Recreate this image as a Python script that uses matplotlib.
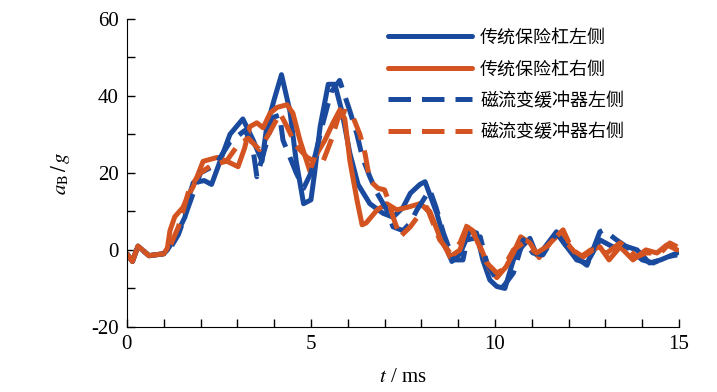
"""
Bumper acceleration comparison: conventional vs magnetorheological buffer
"""
import numpy as np
import matplotlib
matplotlib.use("Agg")
import matplotlib.pyplot as plt

plt.rcParams['font.family'] = ['Liberation Serif', 'DejaVu Serif']
plt.rcParams['mathtext.fontset'] = 'stix'
plt.rcParams['axes.unicode_minus'] = False

labels = ['传统保险杠左侧', '传统保险杠右侧', '磁流变缓冲器左侧', '磁流变缓冲器右侧']

# conventional bumper, left side
t_cl = [0, 0.15, 0.3, 0.6, 1.0, 1.1, 1.3, 1.58, 1.66, 1.8, 2.1, 2.3, 2.53, 2.8, 3.15,
        3.43, 3.67, 3.8, 4.0, 4.2, 4.43, 4.6, 4.8, 5.0, 5.1, 5.25, 5.47, 5.65, 5.84,
        6.06, 6.28, 6.6, 6.96, 7.23, 7.5, 7.7, 7.96, 8.1, 8.42, 8.7, 8.83, 9.05, 9.32,
        9.5, 9.67, 9.86, 10.05, 10.27, 10.5, 10.73, 10.95, 11.13, 11.3, 11.67, 11.95,
        12.22, 12.5, 12.85, 13.2, 13.6, 13.86, 14.2, 14.5, 14.95]
a_cl = [-1, -3, 1, -1.5, -1, 0, 3, 8.6, 13, 17.4, 18, 17, 23, 30, 34,
        28.5, 23, 32, 39, 45.5, 36, 23, 12, 13, 20, 32, 43, 43, 36,
        25, 17, 12, 9.5, 8.5, 11, 14.7, 17, 17.7, 9.5, 0, -3, -1, 5,
        4.4, -2.6, -7.8, -9.5, -10, -2.6, 0.8, 3, -1.3, 0, 4.7, 0.8,
        -2.6, -3.4, 2.6, 0.8, 0.8, 0, -3.4, -2.6, -0.8]

# conventional bumper, right side
t_cr = [0, 0.15, 0.3, 0.6, 1.0, 1.1, 1.17, 1.3, 1.52, 1.7, 1.8, 2.07, 2.45, 2.72, 3.02,
        3.2, 3.34, 3.53, 3.7, 3.89, 4.08, 4.35, 4.51, 4.7, 4.97, 5.1, 5.38, 5.6, 5.79,
        5.92, 6.06, 6.25, 6.39, 6.5, 6.8, 7.06, 7.33, 7.6, 7.96, 8.23, 8.5, 8.78, 9.05,
        9.24, 9.4, 9.6, 9.86, 10.05, 10.3, 10.5, 10.7, 10.95, 11.2, 11.5, 11.77, 12.04,
        12.3, 12.6, 12.85, 13.1, 13.4, 13.75, 14.1, 14.4, 14.67, 14.95]
a_cr = [-1, -3, 1, -1.5, -1, 0.5, 5, 8.6, 11, 14.8, 16.4, 23, 24, 23, 21.6,
        26.5, 32, 33, 31.7, 35.5, 37, 37.7, 35.5, 28.5, 20.5, 24, 28.5, 33, 36.4,
        34, 23, 13, 6.5, 7, 10.4, 12, 10.4, 11, 12, 10, 3.4, -1.8, 0,
        6, 5, 0.8, -5, -7.2, -4.4, -0.8, 3.4, 1.8, -2, 1.8, 4.4, 0.8,
        -2, 0, 0.8, -2.6, 0.8, -2.6, 0, -0.8, 1.3, 0]

# MR buffer, left side
t_ml = [0, 0.15, 0.3, 0.6, 1.0, 1.15, 1.4, 1.7, 2.0, 2.4, 2.8, 3.2, 3.4, 3.53, 3.8,
        4.0, 4.15, 4.24, 4.6, 4.8, 5.0, 5.3, 5.55, 5.78, 6.06, 6.25, 6.4, 6.6, 6.8,
        7.06, 7.23, 7.5, 7.7, 7.88, 8.23, 8.4, 8.6, 8.87, 9.13, 9.24, 9.6, 9.78, 10.05,
        10.22, 10.5, 10.77, 11.03, 11.3, 11.67, 11.95, 12.3, 12.5, 12.85, 12.95, 13.3,
        13.7, 14.0, 14.3, 14.67, 14.95]
a_ml = [-1, -3, 1, -1.5, -1, 0, 4, 12, 20, 22, 28, 31, 28, 19, 28,
        34.5, 35, 28.5, 20, 16, 20, 32, 41, 44, 36, 30, 24, 19, 14.7,
        10.4, 6, 5, 7, 10.4, 15.6, 11, 4.4, -2.6, -2.6, 2.6, 3.4, -3.4, -7.8,
        -9.6, -6, 2.6, -0.8, -1.3, 4.4, 0.8, -2.6, -4, 4.7, 5.2, 2.6,
        0, -2.6, -3.4, -1.8, -1.3]

# MR buffer, right side
t_mr = [0, 0.15, 0.3, 0.6, 1.0, 1.15, 1.4, 1.7, 2.0, 2.3, 2.7, 3.0, 3.3, 3.6, 3.85,
        4.16, 4.35, 4.6, 4.9, 5.1, 5.33, 5.57, 5.73, 5.92, 6.1, 6.33, 6.47, 6.6, 6.82,
        7.0, 7.1, 7.23, 7.42, 7.7, 7.9, 8.15, 8.5, 8.78, 9.05, 9.27, 9.5, 9.78, 10.05,
        10.2, 10.5, 10.77, 11.13, 11.4, 11.85, 12.1, 12.4, 12.67, 13.04, 13.4, 13.86,
        14.1, 14.5, 14.75, 14.95]
a_mr = [-1, -3, 1, -1.5, -1, 0.5, 6, 16, 20, 22, 23, 27, 29, 26, 30,
        35.5, 32, 27, 24, 23, 23, 29, 34, 36, 35.5, 30, 25, 18, 16,
        15.6, 13, 8.6, 3.4, 6, 8.6, 11, 2.6, -0.8, 1.8, 7, 2.6, -3.4, -6,
        -5.2, 0, 1.8, -0.8, 0.8, 5.2, 0, -1.8, 0, -0.8, 1.8, -1.8,
        -0.8, -0.8, 1.8, 0.8]

blue = '#1a4a9e'
orange = '#d35420'

fig = plt.figure(figsize=(7.17, 3.92), dpi=100)
ax = fig.add_axes([0.177, 0.166, 0.770, 0.786])

lw = 3.6
common = dict(lw=lw, solid_joinstyle='round', solid_capstyle='round',
              dash_joinstyle='round')
ax.plot(t_cl, a_cl, color=blue, label=labels[0], **common)
ax.plot(t_cr, a_cr, color=orange, label=labels[1], **common)
ax.plot(t_ml, a_ml, color=blue, ls=(0, (4.5, 2.2)), label=labels[2], **common)
ax.plot(t_mr, a_mr, color=orange, ls=(0, (4.5, 2.2)), label=labels[3], **common)

ax.set_xlim(0, 15)
ax.set_ylim(-20, 60)
ax.set_xticks([0, 5, 10, 15])
ax.set_xticks(np.arange(0, 16, 1), minor=True)
ax.set_yticks([-20, 0, 20, 40, 60])
ax.set_yticks([-10, 10, 30, 50], minor=True)
ax.tick_params(which='both', direction='in', length=6, width=1, labelsize=15, pad=6)
ax.spines['top'].set_visible(False)
ax.spines['right'].set_visible(False)

ax.set_xlabel('$t$ / ms', fontsize=15, labelpad=10)
ax.set_ylabel(r'$a_{\mathrm{B}}\,/\,g$', fontsize=15, labelpad=14)

leg = ax.legend(loc='upper left', bbox_to_anchor=(0.473, 0.968), frameon=False,
                borderaxespad=0, borderpad=0,
                prop={'family': ['Noto Sans CJK SC', 'DejaVu Sans'], 'size': 13},
                handlelength=4.65, handletextpad=0.45, labelspacing=0.75)

fig.savefig('out.png', dpi=100)
